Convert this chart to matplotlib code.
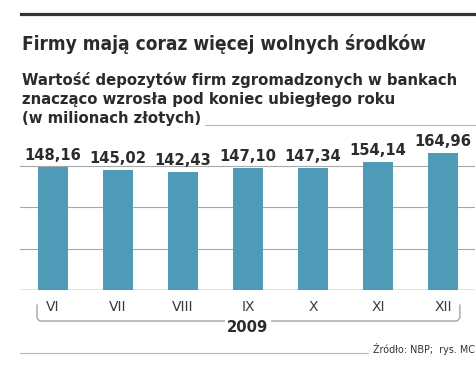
import matplotlib
matplotlib.use("Agg")
import matplotlib.pyplot as plt
from matplotlib import font_manager as fm
from matplotlib.lines import Line2D
from matplotlib.transforms import blended_transform_factory

# ---- data ----
months = ["VI", "VII", "VIII", "IX", "X", "XI", "XII"]
values = [148.16, 145.02, 142.43, 147.10, 147.34, 154.14, 164.96]
value_labels = ["148,16", "145,02", "142,43", "147,10", "147,34", "154,14", "164,96"]
year = "2009"
grid_values = [50, 100, 150]
title = "Firmy mają coraz więcej wolnych środków"
subtitle = ["Wartość depozytów firm zgromadzonych w bankach",
            "znacząco wzrosła pod koniec ubiegłego roku",
            "(w milionach złotych)"]
source = "Źródło: NBP;  rys. MC"

# ---- layout ----
W, H, DPI = 477, 369, 100
fig = plt.figure(figsize=(W / DPI, H / DPI), dpi=DPI)
fig.patch.set_facecolor("white")
renderer = fig.canvas.get_renderer()


def fx(x):
    return x / W


def fy(y):
    return 1 - y / H


def fit(t, target_w):
    w = t.get_window_extent(renderer).width
    t.set_fontsize(t.get_fontsize() * target_w / w)
    return t


# pick the most condensed heavy font available for the title
title_props = dict(family="Liberation Sans Narrow", weight="bold", fontstretch="condensed")
noto_cond = [f for f in fm.fontManager.ttflist
             if f.name == "Noto Sans" and f.stretch == "condensed"
             and isinstance(f.weight, int) and f.weight >= 700]
if noto_cond:
    w_best = max(f.weight for f in noto_cond)
    title_props = dict(family="Noto Sans", weight=min(w_best, 800), fontstretch="condensed")
elif "Liberation Sans Narrow" not in {f.name for f in fm.fontManager.ttflist}:
    title_props = dict(family="DejaVu Sans", weight="bold", fontstretch="condensed")

dark = "#2b2b2b"
bar_color = "#4f9bb7"
light = "#b8b8b8"

# top rule
fig.add_artist(Line2D([fx(21), fx(475)], [fy(14), fy(14)], lw=2.3, color="#333333"))

# title
t = fig.text(fx(22), fy(50), title, va="baseline", ha="left", fontsize=20,
             color=dark, **title_props)
fit(t, 406)

# subtitle
base_y = [85, 104, 123]
sub_texts = []
t0 = fig.text(fx(22), fy(base_y[0]), subtitle[0], va="baseline", ha="left",
              family="DejaVu Sans", weight="bold", fontsize=12, color=dark)
fit(t0, 434)
sub_texts.append(t0)
for line, by in zip(subtitle[1:], base_y[1:]):
    sub_texts.append(fig.text(fx(22), fy(by), line, va="baseline", ha="left",
                              family="DejaVu Sans", weight="bold",
                              fontsize=t0.get_fontsize(), color=dark))
end_x = sub_texts[-1].get_window_extent(renderer).x1
fig.add_artist(Line2D([(end_x + 4) / W, fx(475)], [fy(125), fy(125)], lw=0.8, color=light))

# axes
ax = fig.add_axes([fx(20), fy(290), (475 - 20) / W, (290 - 140) / H])
ax.set_xlim(-33 / 65, 422 / 65)
ax.set_ylim(0, 150 * (290 - 140) / 124.5)
for s in ax.spines.values():
    s.set_visible(False)
ax.set_yticks([])
for g in grid_values:
    ax.axhline(g, color="#a8a8a8", lw=0.8, zorder=0)
ax.axhline(0, color="#777777", lw=1.0, zorder=3)

x = list(range(len(months)))
ax.bar(x, values, width=30 / 65, color=bar_color, zorder=2)
for xi, v, lab in zip(x, values, value_labels):
    ax.annotate(lab, (xi, v), xytext=(0, 7), textcoords="offset pixels",
                ha="center", va="baseline", fontsize=10.6, weight="bold",
                color=dark, family="DejaVu Sans", annotation_clip=False)

ax.set_xticks(x, months)
ax.tick_params(axis="x", length=0, pad=7, labelsize=10, labelcolor="#3a3a3a")

# bracket
tr = blended_transform_factory(ax.transData, fig.transFigure)
bc = "#9a9a9a"
xl, xr = -0.246, 6.26
yt_l, yt_r, yb = 305, 305, 321
yt = fig.text(3, fy(327), year, transform=tr, ha="center", va="center",
              fontsize=10.6, weight="bold", color=dark, family="DejaVu Sans")
bb = yt.get_window_extent(renderer)
inv = ax.transData.inverted()
txt_l = inv.transform((bb.x0 - 3, 0))[0]
txt_r = inv.transform((bb.x1 + 3, 0))[0]
r = 0.04
fig.add_artist(Line2D([xl, xl, xl + r, txt_l], [fy(yt_l), fy(yb - 3), fy(yb), fy(yb)],
                      transform=tr, color=bc, lw=0.9))
fig.add_artist(Line2D([txt_r, xr - r, xr, xr], [fy(yb), fy(yb), fy(yb - 3), fy(yt_r)],
                      transform=tr, color=bc, lw=0.9))

# source
st = fig.text(fx(475), fy(349), source, ha="right", va="center", fontsize=7.5,
              color="#333333", family="DejaVu Sans")
fit(st, 102)
sx0 = st.get_window_extent(renderer).x0
fig.add_artist(Line2D([fx(20), (sx0 - 5) / W], [fy(353), fy(353)], lw=0.8, color=light))

fig.savefig("out.png", dpi=DPI, facecolor="white")
